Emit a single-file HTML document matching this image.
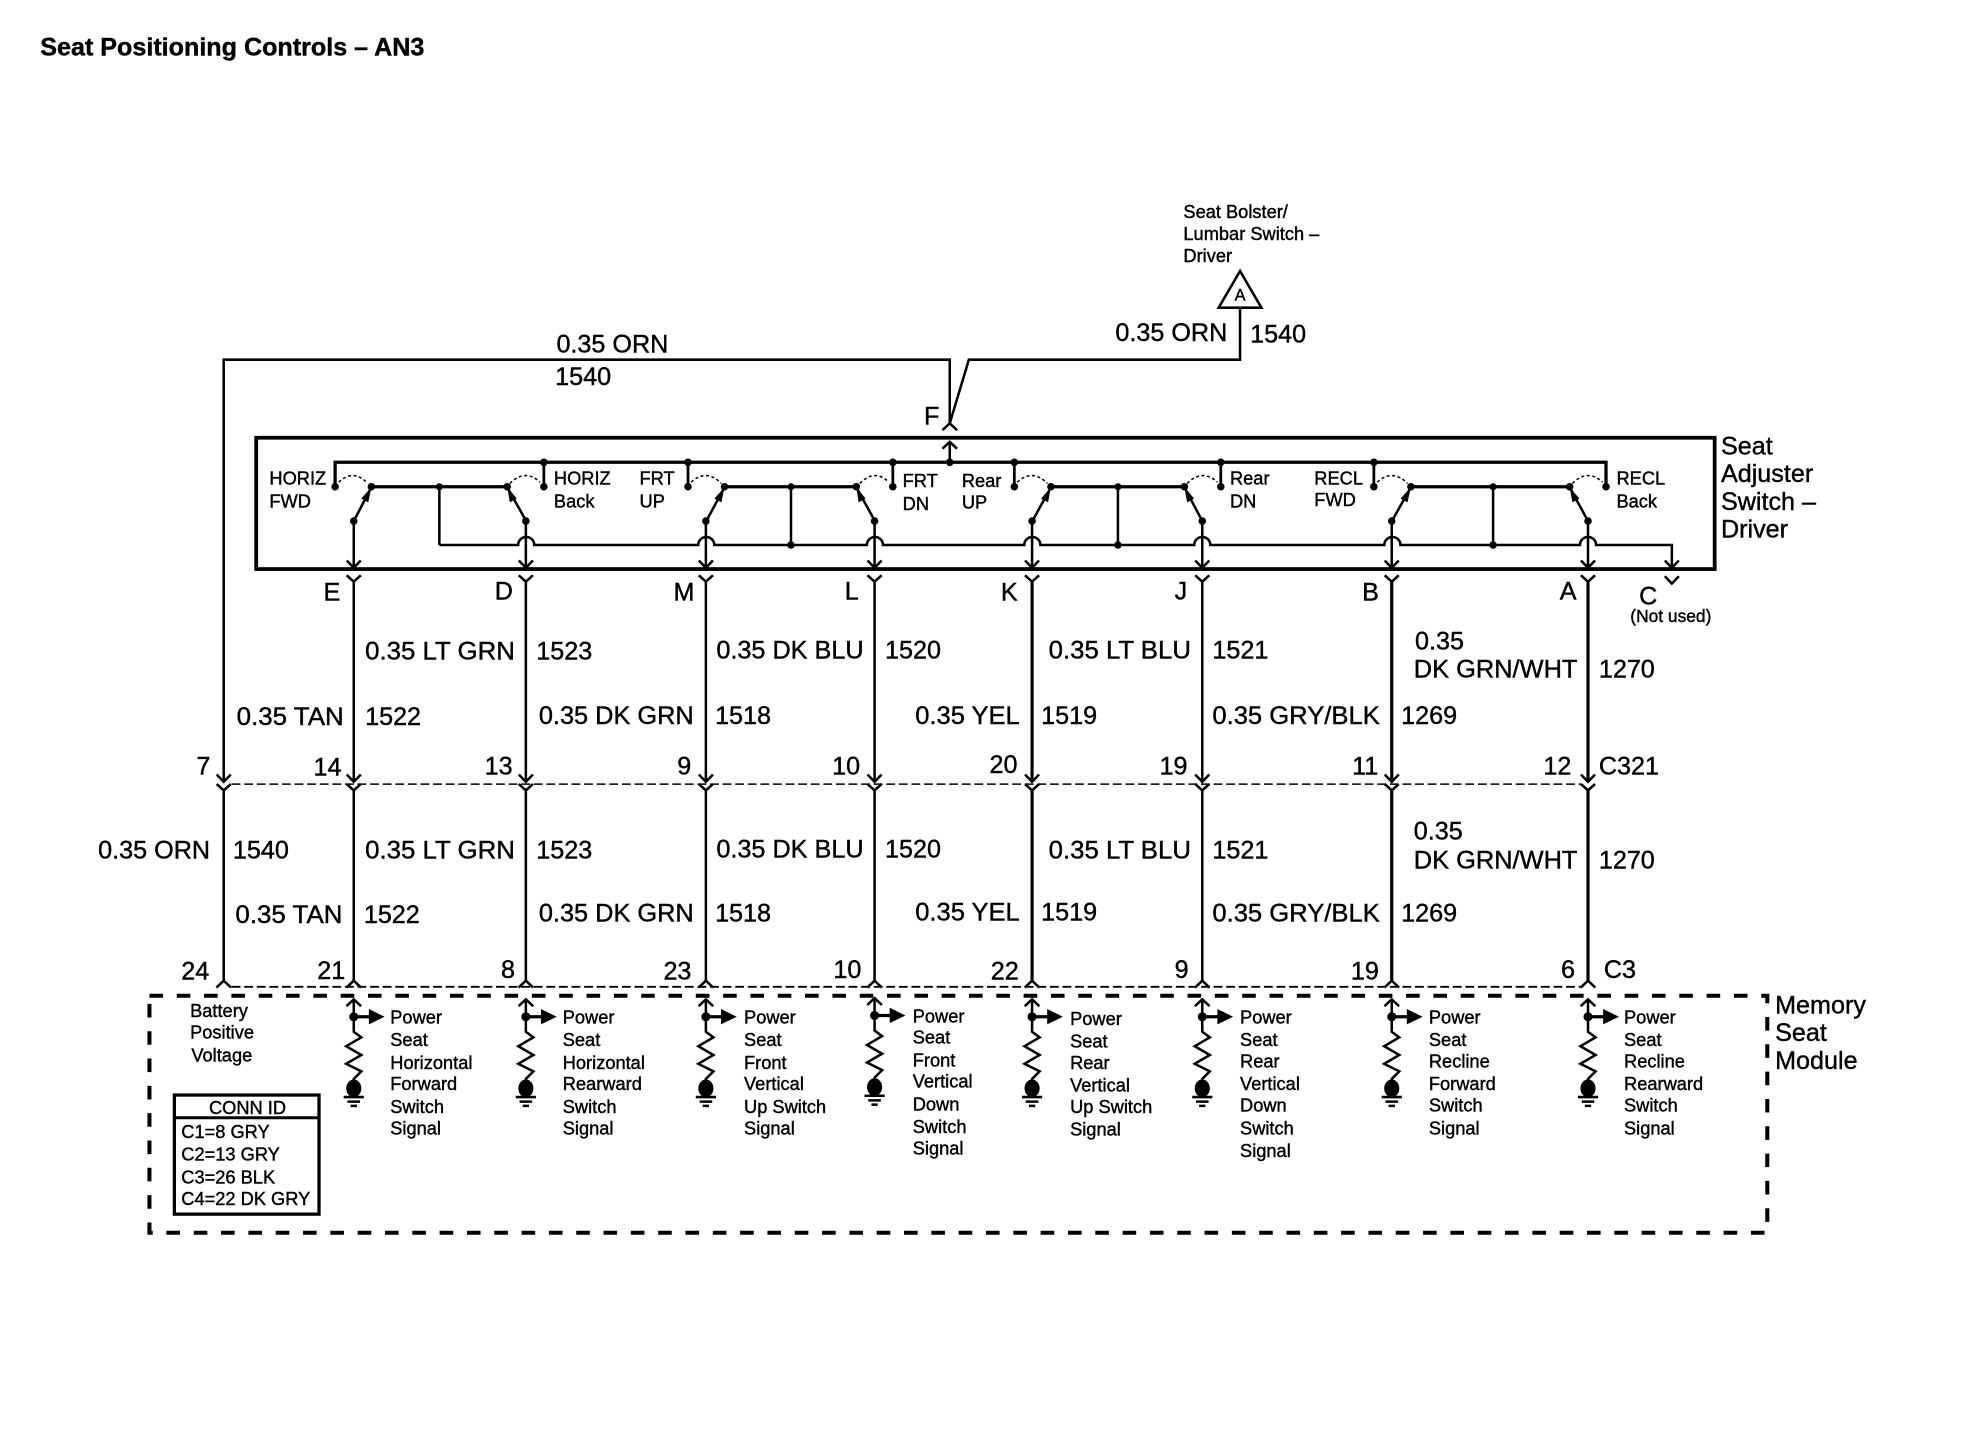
<!DOCTYPE html>
<html><head><meta charset="utf-8"><title>Seat Positioning Controls – AN3</title>
<style>
html,body{margin:0;padding:0;background:#fff}
svg{display:block}
text{font-family:"Liberation Sans",sans-serif;fill:#000;stroke:#000;stroke-width:.32}
.l{font-size:20px}.s{font-size:14.5px}
.w{fill:none;stroke:#000;stroke-width:2}
.t{fill:none;stroke:#000;stroke-width:2.6}
.d{fill:none;stroke:#000;stroke-width:1.2;stroke-dasharray:2.4 2}
</style></head><body>
<svg width="1974" height="1440" viewBox="0 0 1568 1143.8" preserveAspectRatio="none" xmlns="http://www.w3.org/2000/svg">
<defs>
<g id="dn"><path class="w" d="M-5.6 -5.8L0 0L5.6 -5.8"/></g>
<g id="yy"><path class="w" d="M-5.6 0L0 5L5.6 0"/></g>
<g id="up"><path class="w" d="M-5.8 5.4L0 0L5.8 5.4"/></g>
<g id="mod">
<path class="w" d="M0 793.8V819.5L6 824L-6 831L6 838L-6 845L6 851L0 857V862"/>
<use href="#up" y="793.8"/>
<circle cx="0" cy="807.6" r="3.6"/>
<path class="t" d="M0 807.6H13"/>
<path d="M12 801.5L24.5 807.6L12 813.7Z"/>
<ellipse cx="0" cy="864.5" rx="6" ry="7"/>
<path class="w" d="M-8 871.4H8M-5 875H5M-2.5 878.4H2.5"/>
</g>
<g id="con">
<use href="#dn" y="621"/><use href="#yy" y="622.8"/><path class="w" d="M0 462V621M0 627.5V779"/>
<use href="#yy" y="457"/><use href="#up" y="779"/>
</g>
</defs>

<text x="32" y="44" font-size="19.95" font-weight="bold">Seat Positioning Controls – AN3</text>

<text class="s" x="940" y="173">Seat Bolster/</text>
<text class="s" x="940" y="190.500">Lumbar Switch –</text>
<text class="s" x="940" y="208">Driver</text>
<path d="M985 215.300L968 244.400H1002Z" fill="#fff" stroke="#000" stroke-width="2"/>
<text x="985" y="238.500" font-size="13" text-anchor="middle">A</text>

<text class="l" x="442" y="280">0.35 ORN</text>
<text class="l" x="441" y="306">1540</text>
<text class="l" x="886" y="271">0.35 ORN</text>
<text class="l" x="993" y="272">1540</text>
<text class="l" x="734" y="337">F</text>

<!-- top wires -->
<path class="w" d="M177.700 620.900V285.700H754.400V336.300M754.400 336.300L769.600 285.700H985V244.400"/>
<use href="#up" x="754.400" y="336.300"/>

<!-- switch box -->
<rect x="203.500" y="347.700" width="1158.500" height="104.300" fill="none" stroke="#000" stroke-width="3"/>
<path class="t" d="M266.200 386.600V367.200H1275.700V386.600"/>
<path class="w" d="M754.400 367.200V351"/><use href="#up" x="754.400" y="351"/>
<g stroke="#000" fill="none" stroke-width="2.200">
<path d="M432 367.200V386.600M546.500 367.200V386.600M709.200 367.200V386.600M805.700 367.200V386.600M969.700 367.200V386.600M1091.300 367.200V386.600"/>
</g>
<path class="t" d="M295 386.600H402.900M575.500 386.600H680.200M834.800 386.600H940.800M1120.700 386.600H1246.800"/>
<path class="w" d="M349 386.600V432.900M628.300 386.600V432.900M888 386.600V432.900M1186 386.600V432.900"/>
<path class="w" d="M349 432.900H411.600A6.400 6.400 0 0 1 424.400 432.900H554.600A6.400 6.400 0 0 1 567.400 432.900H688.600A6.400 6.400 0 0 1 701.400 432.900H813.600A6.400 6.400 0 0 1 826.400 432.900H948.600A6.400 6.400 0 0 1 961.400 432.900H1099.600A6.400 6.400 0 0 1 1112.400 432.900H1255A6.400 6.400 0 0 1 1267.800 432.900H1328V451"/>
<use href="#dn" x="1328" y="451"/>
<use href="#dn" x="1328" y="463.500" />
<!-- arms -->
<path class="w" d="M281 413.900L295 387M418 413.900L402.900 387M561 413.900L575.500 387M695 413.900L680.200 387M820 413.900L834.800 387M955 413.900L940.800 387M1105.600 413.900L1120.700 387M1261.400 413.900L1246.800 387"/>
<path class="w" d="M281 413.900V451M417.700 413.900V451M560.700 413.900V451M694.700 413.900V451M819.800 413.900V451M955 413.900V451M1105.500 413.900V451M1261.400 413.900V451"/>
<g>
<use href="#dn" x="281" y="451"/><use href="#dn" x="417.700" y="451"/><use href="#dn" x="560.700" y="451"/><use href="#dn" x="694.700" y="451"/><use href="#dn" x="819.800" y="451"/><use href="#dn" x="955" y="451"/><use href="#dn" x="1105.500" y="451"/><use href="#dn" x="1261.400" y="451"/>
</g>
<!-- dots -->
<g fill="#000">
<circle cx="432" cy="367.200" r="3"/><circle cx="546.500" cy="367.200" r="3"/><circle cx="709.200" cy="367.200" r="3"/><circle cx="754.400" cy="367.200" r="3"/><circle cx="805.700" cy="367.200" r="3"/><circle cx="969.700" cy="367.200" r="3"/><circle cx="1091.300" cy="367.200" r="3"/>
<circle cx="266.200" cy="386.600" r="3"/><circle cx="295" cy="386.600" r="3"/><circle cx="349" cy="386.600" r="2.800"/><circle cx="402.900" cy="386.600" r="3"/><circle cx="432" cy="386.600" r="3"/>
<circle cx="546.500" cy="386.600" r="3"/><circle cx="575.500" cy="386.600" r="3"/><circle cx="628.300" cy="386.600" r="2.800"/><circle cx="680.200" cy="386.600" r="3"/><circle cx="709.200" cy="386.600" r="3"/>
<circle cx="805.700" cy="386.600" r="3"/><circle cx="834.800" cy="386.600" r="3"/><circle cx="888" cy="386.600" r="2.800"/><circle cx="940.800" cy="386.600" r="3"/><circle cx="969.700" cy="386.600" r="3"/>
<circle cx="1091.300" cy="386.600" r="3"/><circle cx="1120.700" cy="386.600" r="3"/><circle cx="1186" cy="386.600" r="2.800"/><circle cx="1246.800" cy="386.600" r="3"/><circle cx="1275.700" cy="386.600" r="3"/>
<circle cx="281" cy="413.900" r="3"/><circle cx="417.700" cy="413.900" r="3"/><circle cx="560.700" cy="413.900" r="3"/><circle cx="694.700" cy="413.900" r="3"/><circle cx="819.800" cy="413.900" r="3"/><circle cx="955" cy="413.900" r="3"/><circle cx="1105.500" cy="413.900" r="3"/><circle cx="1261.400" cy="413.900" r="3"/>
<circle cx="628.300" cy="432.900" r="3"/><circle cx="888" cy="432.900" r="3"/><circle cx="1186" cy="432.900" r="3"/>
<path d="M295 387L287 396L292.500 399Z"/><path d="M402.900 387L405 399L410.500 396Z"/><path d="M575.500 387L567.500 396L573 399Z"/><path d="M680.200 387L682 399L687.500 396Z"/><path d="M834.800 387L827 396L832.500 399Z"/><path d="M940.800 387L943 399L948.500 396Z"/><path d="M1120.700 387L1112.500 396L1118 399Z"/><path d="M1246.800 387L1249 399L1254.500 396Z"/>
</g>
<!-- dotted arcs -->
<path class="d" d="M269 383Q281 372 292 384M405 384Q417 372 429 383M549 383Q561 372 573 384M683 384Q695 372 706 383M808 383Q820 372 832 384M943 384Q955 372 967 383M1094 383Q1106 372 1118 384M1249 384Q1261 372 1273 383"/>

<text class="s" x="214" y="385">HORIZ</text><text class="s" x="214" y="403">FWD</text>
<text class="s" x="440" y="385">HORIZ</text><text class="s" x="440" y="403">Back</text>
<text class="s" x="508" y="385">FRT</text><text class="s" x="508" y="403">UP</text>
<text class="s" x="717" y="387">FRT</text><text class="s" x="717" y="405">DN</text>
<text class="s" x="764" y="387">Rear</text><text class="s" x="764" y="404">UP</text>
<text class="s" x="977" y="385">Rear</text><text class="s" x="977" y="403">DN</text>
<text class="s" x="1044" y="385">RECL</text><text class="s" x="1044" y="402">FWD</text>
<text class="s" x="1284" y="385">RECL</text><text class="s" x="1284" y="403">Back</text>

<text class="l" x="1367" y="361">Seat</text><text class="l" x="1367" y="383">Adjuster</text><text class="l" x="1367" y="405">Switch –</text><text class="l" x="1367" y="427">Driver</text>

<!-- connector letters -->
<text class="l" x="257" y="477">E</text><text class="l" x="393" y="476">D</text><text class="l" x="535" y="477">M</text><text class="l" x="671" y="476">L</text><text class="l" x="795" y="477">K</text><text class="l" x="933" y="476">J</text><text class="l" x="1082" y="477">B</text><text class="l" x="1239" y="476">A</text><text class="l" x="1302" y="480">C</text>
<text x="1295" y="494" style="font-size:13.8px">(Not used)</text>

<!-- vertical columns -->
<use href="#con" x="281"/><use href="#con" x="417.700"/><use href="#con" x="560.700"/><use href="#con" x="694.700"/><use href="#con" x="819.800"/><use href="#con" x="955"/><use href="#con" x="1105.500"/><use href="#con" x="1261.400"/>
<path stroke="#000" stroke-width="2.500" fill="none" d="M819.800 462V621M819.800 627.500V779M1105.500 462V621M1105.500 627.500V779M1261.400 462V621M1261.400 627.500V779"/>
<use href="#dn" x="177.700" y="621"/><use href="#yy" x="177.700" y="622.800"/><path class="w" d="M177.700 627.500V779"/><use href="#up" x="177.700" y="779"/>
<path stroke="#000" stroke-width="1.200" stroke-dasharray="7 3" fill="none" d="M184 622.800H1256"/>
<path stroke="#000" stroke-width="1.500" stroke-dasharray="7 3" fill="none" d="M184 783.800H1256"/>

<!-- upper labels -->
<text class="l" x="290" y="524" textLength="119" lengthAdjust="spacingAndGlyphs">0.35 LT GRN</text><text class="l" x="426" y="524">1523</text>
<text class="l" x="569" y="523" textLength="117" lengthAdjust="spacingAndGlyphs">0.35 DK BLU</text><text class="l" x="703" y="523">1520</text>
<text class="l" x="833" y="523" textLength="113" lengthAdjust="spacingAndGlyphs">0.35 LT BLU</text><text class="l" x="963" y="523">1521</text>
<text class="l" x="1124" y="516">0.35</text><text class="l" x="1123" y="538" textLength="130" lengthAdjust="spacingAndGlyphs">DK GRN/WHT</text><text class="l" x="1270" y="538">1270</text>
<text class="l" x="188" y="576" textLength="85" lengthAdjust="spacingAndGlyphs">0.35 TAN</text><text class="l" x="290" y="576">1522</text>
<text class="l" x="428" y="575" textLength="123" lengthAdjust="spacingAndGlyphs">0.35 DK GRN</text><text class="l" x="568" y="575">1518</text>
<text class="l" x="727" y="575" textLength="83" lengthAdjust="spacingAndGlyphs">0.35 YEL</text><text class="l" x="827" y="575">1519</text>
<text class="l" x="963" y="575" textLength="133" lengthAdjust="spacingAndGlyphs">0.35 GRY/BLK</text><text class="l" x="1113" y="575">1269</text>

<text class="l" x="156" y="615">7</text><text class="l" x="249" y="616">14</text><text class="l" x="385" y="615">13</text><text class="l" x="538" y="615">9</text><text class="l" x="661" y="615">10</text><text class="l" x="786" y="614">20</text><text class="l" x="921" y="615">19</text><text class="l" x="1074" y="615">11</text><text class="l" x="1226" y="615">12</text><text class="l" x="1270" y="615">C321</text>

<!-- lower labels -->
<text class="l" x="78" y="682">0.35 ORN</text><text class="l" x="185" y="682">1540</text>
<text class="l" x="290" y="682" textLength="119" lengthAdjust="spacingAndGlyphs">0.35 LT GRN</text><text class="l" x="426" y="682">1523</text>
<text class="l" x="569" y="681" textLength="117" lengthAdjust="spacingAndGlyphs">0.35 DK BLU</text><text class="l" x="703" y="681">1520</text>
<text class="l" x="833" y="682" textLength="113" lengthAdjust="spacingAndGlyphs">0.35 LT BLU</text><text class="l" x="963" y="682">1521</text>
<text class="l" x="1123" y="667">0.35</text><text class="l" x="1123" y="690" textLength="130" lengthAdjust="spacingAndGlyphs">DK GRN/WHT</text><text class="l" x="1270" y="690">1270</text>
<text class="l" x="187" y="733" textLength="85" lengthAdjust="spacingAndGlyphs">0.35 TAN</text><text class="l" x="289" y="733">1522</text>
<text class="l" x="428" y="732" textLength="123" lengthAdjust="spacingAndGlyphs">0.35 DK GRN</text><text class="l" x="568" y="732">1518</text>
<text class="l" x="727" y="731" textLength="83" lengthAdjust="spacingAndGlyphs">0.35 YEL</text><text class="l" x="827" y="731">1519</text>
<text class="l" x="963" y="732" textLength="133" lengthAdjust="spacingAndGlyphs">0.35 GRY/BLK</text><text class="l" x="1113" y="732">1269</text>

<text class="l" x="144" y="778">24</text><text class="l" x="252" y="777.500">21</text><text class="l" x="398" y="777">8</text><text class="l" x="527" y="778">23</text><text class="l" x="662" y="777">10</text><text class="l" x="787" y="778">22</text><text class="l" x="933" y="777">9</text><text class="l" x="1073" y="778">19</text><text class="l" x="1240" y="777">6</text><text class="l" x="1274" y="777">C3</text>

<!-- memory module -->
<rect x="118.700" y="790.900" width="1285.100" height="188.300" fill="none" stroke="#000" stroke-width="3.200" stroke-dasharray="10.800 10.900"/>
<text class="l" x="1410" y="805">Memory</text><text class="l" x="1410" y="827">Seat</text><text class="l" x="1410" y="849">Module</text>
<use href="#mod" x="281"/><use href="#mod" x="417.700"/><use href="#mod" x="560.700"/><use href="#mod" x="694.700" y="-1"/><use href="#mod" x="819.800"/><use href="#mod" x="955"/><use href="#mod" x="1105.500"/><use href="#mod" x="1261.400"/>

<text class="s" x="151" y="808">Battery</text><text class="s" x="151" y="825">Positive</text><text class="s" x="152" y="843">Voltage</text>

<rect x="138.500" y="869.800" width="114.900" height="94.600" fill="none" stroke="#000" stroke-width="2.600"/>
<path d="M138.500 887.800H253.400" stroke="#000" stroke-width="2.400"/>
<text class="s" x="166" y="885">CONN ID</text>
<text class="s" x="144" y="904">C1=8 GRY</text><text class="s" x="144" y="922">C2=13 GRY</text><text class="s" x="144" y="940">C3=26 BLK</text><text class="s" x="144" y="957">C4=22 DK GRY</text>

<text class="s" x="310" y="813">Power</text><text class="s" x="310" y="831">Seat</text><text class="s" x="310" y="849">Horizontal</text><text class="s" x="310" y="866">Forward</text><text class="s" x="310" y="884">Switch</text><text class="s" x="310" y="901">Signal</text>
<text class="s" x="447" y="813">Power</text><text class="s" x="447" y="831">Seat</text><text class="s" x="447" y="849">Horizontal</text><text class="s" x="447" y="866">Rearward</text><text class="s" x="447" y="884">Switch</text><text class="s" x="447" y="901">Signal</text>
<text class="s" x="591" y="813">Power</text><text class="s" x="591" y="831">Seat</text><text class="s" x="591" y="849">Front</text><text class="s" x="591" y="866">Vertical</text><text class="s" x="591" y="884">Up Switch</text><text class="s" x="591" y="901">Signal</text>
<text class="s" x="725" y="812">Power</text><text class="s" x="725" y="829">Seat</text><text class="s" x="725" y="847">Front</text><text class="s" x="725" y="864">Vertical</text><text class="s" x="725" y="882">Down</text><text class="s" x="725" y="900">Switch</text><text class="s" x="725" y="917">Signal</text>
<text class="s" x="850" y="814">Power</text><text class="s" x="850" y="832">Seat</text><text class="s" x="850" y="849">Rear</text><text class="s" x="850" y="867">Vertical</text><text class="s" x="850" y="884">Up Switch</text><text class="s" x="850" y="902">Signal</text>
<text class="s" x="985" y="813">Power</text><text class="s" x="985" y="831">Seat</text><text class="s" x="985" y="848">Rear</text><text class="s" x="985" y="866">Vertical</text><text class="s" x="985" y="883">Down</text><text class="s" x="985" y="901">Switch</text><text class="s" x="985" y="919">Signal</text>
<text class="s" x="1135" y="813">Power</text><text class="s" x="1135" y="831">Seat</text><text class="s" x="1135" y="848">Recline</text><text class="s" x="1135" y="866">Forward</text><text class="s" x="1135" y="883">Switch</text><text class="s" x="1135" y="901">Signal</text>
<text class="s" x="1290" y="813">Power</text><text class="s" x="1290" y="831">Seat</text><text class="s" x="1290" y="848">Recline</text><text class="s" x="1290" y="866">Rearward</text><text class="s" x="1290" y="883">Switch</text><text class="s" x="1290" y="901">Signal</text>
</svg>
</body></html>
